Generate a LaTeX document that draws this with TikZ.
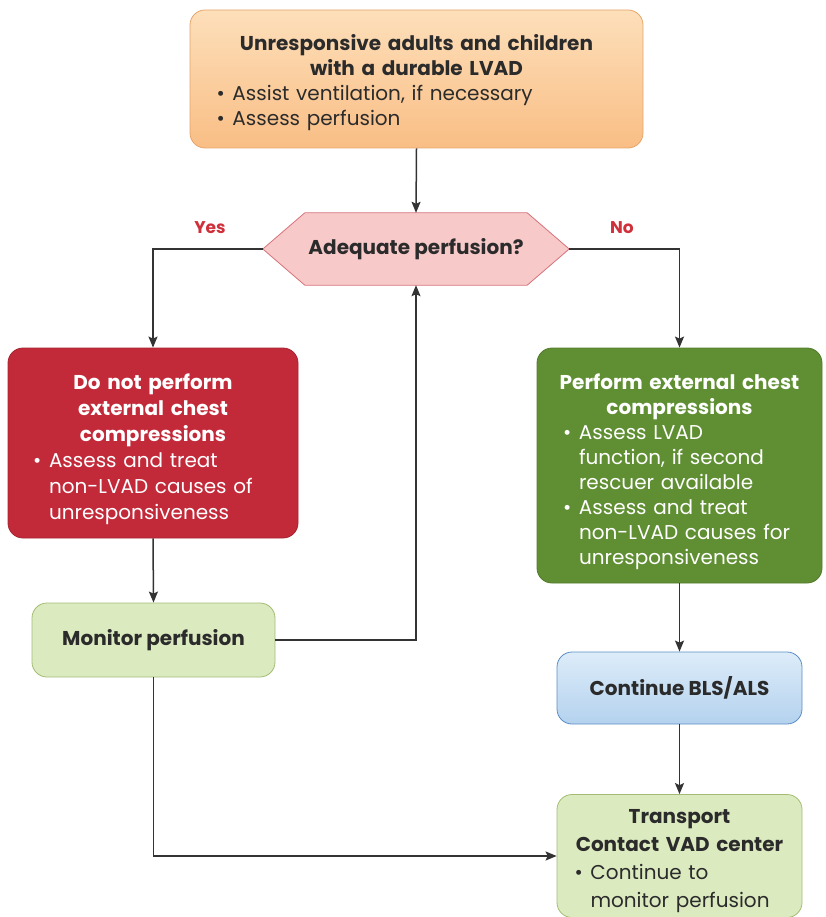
\documentclass[tikz,border=0pt]{standalone}
\usepackage{fontspec}
\setmainfont{Poppins}
\usetikzlibrary{arrows.meta,backgrounds,calc}

\definecolor{ink}{HTML}{2B2B2B}
\definecolor{lineink}{HTML}{333333}
\definecolor{orangetop}{HTML}{FDDFBA}
\definecolor{orangebot}{HTML}{F9BE85}
\definecolor{orangeedge}{HTML}{E6A56A}
\definecolor{hexfill}{HTML}{F8C9C9}
\definecolor{hexedge}{HTML}{D6727A}
\definecolor{alertred}{HTML}{D0303A}
\definecolor{stopred}{HTML}{C22A3A}
\definecolor{gogreen}{HTML}{5F8F32}
\definecolor{palegreen}{HTML}{DCEAC0}
\definecolor{palegreenedge}{HTML}{A3BC74}
\definecolor{bluetop}{HTML}{DDECF9}
\definecolor{bluebot}{HTML}{B4D2EE}
\definecolor{blueedge}{HTML}{5B8DC5}

% heading lines (centred, bold), bullet items and their continuation lines
\newlength{\itemshift}
\newcommand{\boxhead}[1]{{\centering\bfseries #1\par}}
\newcommand{\boxitem}[1]{\par\noindent\hspace*{\itemshift}\makebox[16pt][l]{\textbullet}#1\par}
\newcommand{\boxcont}[1]{\par\noindent\hspace*{\itemshift}\hspace*{16pt}#1\par}

\tikzset{
  txt/.style={font=\fontsize{20}{25}\selectfont},
  card/.style={txt, rounded corners=15pt, line width=0.8pt, inner sep=0pt, align=left},
  % trims the bottom of the text block so that the centred text sits lower
  drop/.style={execute at end node={\par\vspace*{-#1}}},
  startbox/.style={card, draw=orangeedge, top color=orangetop, bottom color=orangebot, text=ink},
  stopbox/.style={card, draw=stopred!85!black, fill=stopred, text=white},
  gobox/.style={card, draw=gogreen!85!black, fill=gogreen, text=white},
  notebox/.style={card, draw=palegreenedge, fill=palegreen, text=ink},
  blsbox/.style={card, draw=blueedge, top color=bluetop, bottom color=bluebot, text=ink},
  question/.style={font=\fontsize{20}{25}\selectfont\bfseries, text=ink, inner sep=0pt},
  answer/.style={font=\fontsize{17}{20}\selectfont\bfseries, text=alertred},
  conn/.style={draw=lineink, line width=1.5pt, -{Stealth[length=11pt,width=9pt,inset=2pt]}},
}

\begin{document}
\begin{tikzpicture}[x=1pt, y=-1pt]
\useasboundingbox (0,0) rectangle (825,917);

% entry box
\node[startbox, drop=8pt, minimum width=453pt, minimum height=138pt, text width=400pt] (entry) at (416.5,79)
  {\boxhead{Unresponsive adults and children\\with a durable LVAD}%
   \boxitem{Assist ventilation, if necessary}%
   \boxitem{Assess perfusion}};

% decision
\node[question, minimum width=306pt, minimum height=72pt] (q) at (416,249) {Adequate perfusion?};
\begin{scope}[on background layer]
  \draw[fill=hexfill, draw=hexedge, line width=0.8pt]
    (q.west) -- ($(q.north west)+(42,0)$) -- ($(q.north east)+(-42,0)$) -- (q.east)
    -- ($(q.south east)+(-42,0)$) -- ($(q.south west)+(42,0)$) -- cycle;
\end{scope}
\node[answer] (yes) at (210,228) {Yes};
\node[answer] (no) at (622,228) {No};

% yes branch
\node[stopbox, drop=13pt, font=\fontsize{20}{26}\selectfont, minimum width=290pt, minimum height=190pt, text width=240pt] (stop) at (153,443)
  {\boxhead{Do not perform\\external chest\\compressions}%
   \boxitem{Assess and treat}\boxcont{non-LVAD causes of}\boxcont{unresponsiveness}};
\node[notebox, minimum width=243pt, minimum height=74pt, align=center] (mon) at (153.5,640)
  {\bfseries Monitor perfusion};

% no branch
\node[gobox, drop=12pt, minimum width=285pt, minimum height=235pt, text width=245pt] (go) at (679.5,465.5)
  {\setlength{\itemshift}{6pt}%
   \boxhead{Perform external chest\\compressions}%
   \boxitem{Assess LVAD}\boxcont{function, if second}\boxcont{rescuer available}%
   \boxitem{Assess and treat}\boxcont{non-LVAD causes for}\boxcont{unresponsiveness}};
\node[blsbox, minimum width=245pt, minimum height=72pt, align=center] (bls) at (679.5,688)
  {\bfseries Continue BLS/ALS};
\node[notebox, drop=10pt, font=\fontsize{20}{28}\selectfont, minimum width=245pt, minimum height=123pt, text width=210pt] (trans) at (679.5,856)
  {\boxhead{Transport\\Contact VAD center}%
   \boxitem{Continue to}\boxcont{monitor perfusion}};

% connectors
\draw[conn] (entry.south) -- (q.north);
\draw[conn] (q.west) -| (stop.north);
\draw[conn] (q.east) -| (go.north);
\draw[conn] (stop.south) -- (mon.north);
\draw[conn] (mon.east) -| (q.south);
\draw[conn] (mon.south) |- (trans.west);
\draw[conn] (go.south) -- (bls.north);
\draw[conn] (bls.south) -- (trans.north);
\end{tikzpicture}
\end{document}
